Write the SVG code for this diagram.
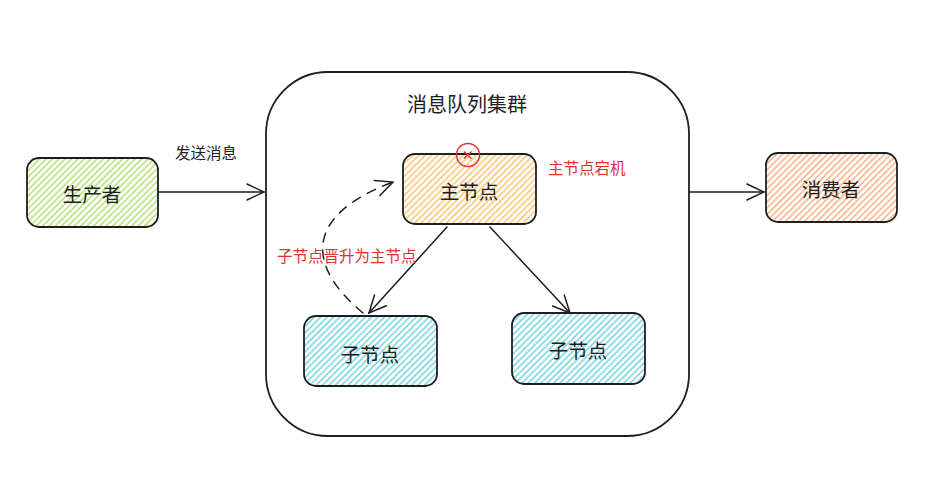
<svg xmlns="http://www.w3.org/2000/svg" width="925" height="486" viewBox="0 0 925 486">
<style>
  .box { stroke: #1e1e1e; stroke-width: 1.8; }
  .lbl { font-family: "Noto Sans CJK SC", "Noto Sans", sans-serif; fill: #1e1e1e; text-anchor: middle; dominant-baseline: central; }
  .red { font-family: "Noto Sans CJK SC", "Noto Sans", sans-serif; fill: #e03131; dominant-baseline: central; }
  .conn { fill: none; stroke: #1e1e1e; stroke-width: 1.5; stroke-linecap: round; stroke-linejoin: round; }
</style>
<defs>
  <pattern id="hGreen" patternUnits="userSpaceOnUse" width="4.5" height="4.5" patternTransform="rotate(45)">
    <line x1="1" y1="0" x2="1" y2="4.5" stroke="#b8e27e" stroke-width="1.6"/>
  </pattern>
  <pattern id="hOrange" patternUnits="userSpaceOnUse" width="4.5" height="4.5" patternTransform="rotate(45)">
    <line x1="1" y1="0" x2="1" y2="4.5" stroke="#ffc87a" stroke-width="1.6"/>
  </pattern>
  <pattern id="hPeach" patternUnits="userSpaceOnUse" width="4.5" height="4.5" patternTransform="rotate(45)">
    <line x1="1" y1="0" x2="1" y2="4.5" stroke="#ffb48c" stroke-width="1.6"/>
  </pattern>
  <pattern id="hCyan" patternUnits="userSpaceOnUse" width="4.5" height="4.5" patternTransform="rotate(45)">
    <line x1="1" y1="0" x2="1" y2="4.5" stroke="#7fd6e3" stroke-width="1.6"/>
  </pattern>
  <marker id="arr" viewBox="0 0 20 20" refX="19" refY="10" markerWidth="20" markerHeight="20" markerUnits="userSpaceOnUse" orient="auto">
    <path d="M2,2 L19,10 L2,18" fill="none" stroke="#1e1e1e" stroke-width="1.5" stroke-linecap="round"/>
  </marker>
</defs>

<g id="cluster">
  <rect x="266" y="72" width="423" height="364" rx="62" ry="62" fill="none" class="box"/>
  <text x="467" y="103" class="lbl" font-size="20">消息队列集群</text>
</g>

<g id="producer">
  <rect x="27" y="158" width="131" height="69" rx="12" fill="url(#hGreen)" class="box"/>
  <text x="92" y="193" class="lbl" font-size="19.5">生产者</text>
</g>

<g id="master">
  <rect x="403" y="154" width="133" height="70" rx="12" fill="url(#hOrange)" class="box"/>
  <text x="469" y="190" class="lbl" font-size="19.5">主节点</text>
</g>

<g id="child-left">
  <rect x="304" y="316" width="133" height="70" rx="12" fill="url(#hCyan)" class="box"/>
  <text x="370" y="353" class="lbl" font-size="19.5">子节点</text>
</g>

<g id="child-right">
  <rect x="512" y="313" width="133" height="71" rx="12" fill="url(#hCyan)" class="box"/>
  <text x="578" y="349" class="lbl" font-size="19.5">子节点</text>
</g>

<g id="consumer">
  <rect x="766" y="153" width="131" height="69" rx="12" fill="url(#hPeach)" class="box"/>
  <text x="831" y="188" class="lbl" font-size="19.5">消费者</text>
</g>

<g id="failure-mark">
  <circle cx="468" cy="155" r="11.5" fill="none" stroke="#e03131" stroke-width="1.4"/>
  <path d="M464,151.5 L471.5,158.5 M471.5,151.5 L464,158.5" stroke="#e03131" stroke-width="1.4" fill="none"/>
  <text x="548" y="167" class="red" font-size="15.5">主节点宕机</text>
</g>

<g id="connectors">
  <line x1="158" y1="192" x2="264" y2="192" class="conn" marker-end="url(#arr)"/>
  <text x="206" y="152" class="lbl" font-size="15.5">发送消息</text>
  <line x1="690" y1="192" x2="764" y2="192" class="conn" marker-end="url(#arr)"/>
  <line x1="447" y1="227" x2="369" y2="313" class="conn" marker-end="url(#arr)"/>
  <line x1="490" y1="227" x2="570" y2="313" class="conn" marker-end="url(#arr)"/>
  <path d="M363,313 C305,265 305,215 393,182" class="conn" stroke-dasharray="9 8" marker-end="url(#arr)"/>
  <text x="277" y="255" class="red" font-size="15.5">子节点晋升为主节点</text>
</g>
</svg>
